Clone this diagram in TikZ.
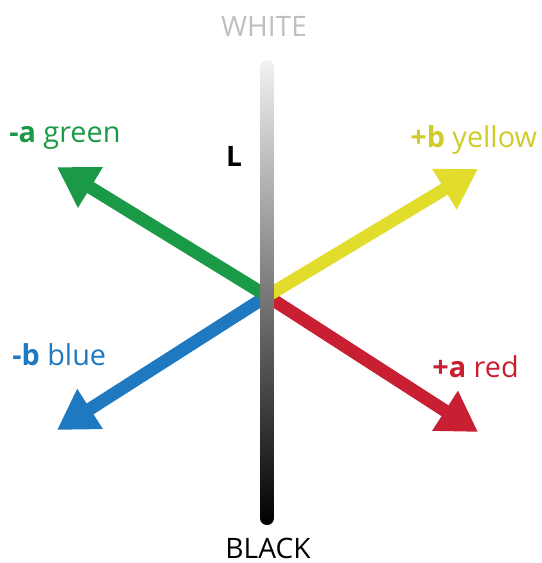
\documentclass[tikz,border=0pt]{standalone}
\usepackage{fontspec}
\setmainfont{Open Sans}
\usetikzlibrary{arrows.meta, positioning}

\definecolor{clrgreen}{HTML}{1A9946}
\definecolor{clryellow}{HTML}{E2DD2C}
\definecolor{clrblue}{HTML}{1F79C1}
\definecolor{clrred}{HTML}{C81F32}

\begin{document}
\begin{tikzpicture}[
    x=0.025cm, y=-0.025cm,
    axisarrow/.style={line width=0.32cm, -{Triangle[length=0.98cm, width=1.12cm]}},
    axislabel/.style={anchor=base west, inner sep=0pt, font=\fontsize{20.5}{24}\selectfont},
    endlabel/.style={anchor=base, inner sep=0pt, font=\fontsize{20}{24}\selectfont}
]

\useasboundingbox (0,0) rectangle (541,563);

% centre and ends of the colour axes
\coordinate (origin) at (267,296);
\coordinate (greentip) at (57,167);
\coordinate (bluetip) at (57,430);
\coordinate (yellowtip) at (478,169);
\coordinate (redtip) at (478,432);

\draw[axisarrow, clrblue] (origin) -- (bluetip);
\draw[axisarrow, clrgreen] (origin) -- (greentip);
\draw[axisarrow, clrred] (origin) -- (redtip);
\draw[axisarrow, clryellow] (origin) -- (yellowtip);

% lightness bar
\shade[top color=black!5, bottom color=black, rounded corners=0.17cm] (260,60) rectangle (274,525);

% labels
\node[endlabel, text=black!25] (white) at (264,37) {WHITE};
\node[endlabel] (black) at (268,558) {BLACK};
\node[endlabel, font=\fontsize{20}{24}\selectfont\bfseries] (lname) at (234,167) {L};

\node[axislabel, text=clrgreen] (greenlabel) at (9,143) {\textbf{-a} green};
\node[axislabel, text=clryellow!92!black] (yellowlabel) at (410,148) {\textbf{+b} yellow};
\node[axislabel, text=clrblue] (bluelabel) at (12,365) {\textbf{-b} blue};
\node[axislabel, text=clrred] (redlabel) at (432,377) {\textbf{+a} red};

\end{tikzpicture}
\end{document}
